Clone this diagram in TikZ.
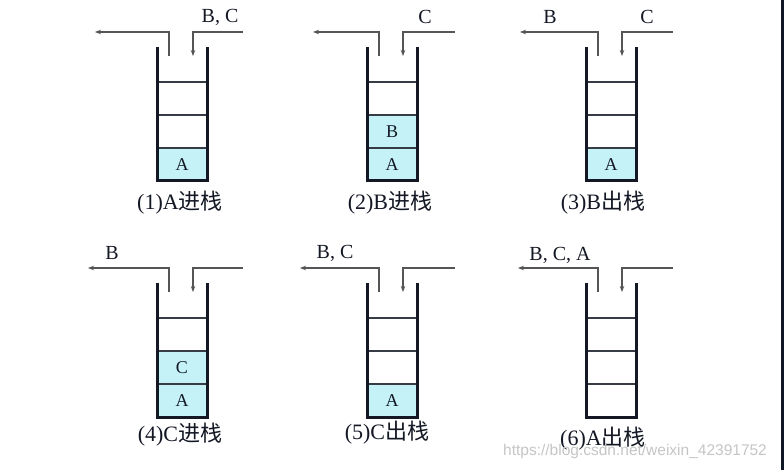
\documentclass[tikz,border=0pt]{standalone}
\usepackage{fontspec}
\setmainfont{Liberation Serif}
\newfontfamily\cjk{Noto Sans CJK SC}
\newfontfamily\wmfont{Liberation Sans}
\usetikzlibrary{arrows.meta}
\definecolor{cellfill}{RGB}{196,242,246}
\definecolor{ink}{RGB}{20,24,36}
\definecolor{arrowgray}{RGB}{85,85,85}
\definecolor{darkstrip}{RGB}{15,22,38}
\tikzset{
 wall/.style={line width=3pt, draw=ink, line join=miter},
 divider/.style={line width=1.5pt, draw=ink!85},
 flow/.style={line width=1.3pt, draw=arrowgray},
 flowtip/.style={flow, -{Stealth[length=6pt,width=4.5pt]}},
 lbl/.style={font=\fontsize{20}{20}\selectfont, text=ink, inner sep=0},
 cellt/.style={font=\fontsize{18}{18}\selectfont, text=ink, inner sep=0},
 captxt/.style={font=\fontsize{22}{22}\selectfont, text=ink, inner sep=0},
 wm/.style={font=\wmfont\fontsize{15.5}{15.5}\selectfont, text=gray!45, inner sep=0},
}
\newcommand\stk[5]{% name, xL, y0, outleft x, inright x
 \coordinate (#1-tl) at (#2,#3+15);
 \coordinate (#1-tr) at (#2+50,#3+15);
 \coordinate (#1-bl) at (#2,#3+149);
 \coordinate (#1-br) at (#2+50,#3+149);
 \coordinate (#1-o1) at (#2+12,#3+24);
 \coordinate (#1-o2) at (#2+12,#3);
 \coordinate (#1-o3) at (#4,#3);
 \coordinate (#1-i1) at (#5,#3);
 \coordinate (#1-i2) at (#2+36,#3);
 \coordinate (#1-i3) at (#2+36,#3+24);
 \foreach \k in {1,2,3}{\draw[divider] (#2,#3+149-33*\k) -- (#2+50,#3+149-33*\k);}
 \draw[wall] (#1-tl) -- (#1-bl) -- (#1-br) -- (#1-tr);
 \draw[flowtip] (#1-o1) -- (#1-o2) -- (#1-o3);
 \draw[flowtip] (#1-i1) -- (#1-i2) -- (#1-i3);
}
\newcommand\cellbox[5]{% name, xL, y0, k, letter
 \fill[cellfill] (#2,#3+149-33*#4+33) rectangle (#2+50,#3+149-33*#4);
 \node[cellt] (#1) at (#2+25,#3+149-33*#4+16.5) {#5};
}
\begin{document}
\begin{tikzpicture}[x=1pt,y=-1pt]
\useasboundingbox (0,0) rectangle (784,470);
\fill[white] (0,0) rectangle (784,470);
\fill[darkstrip] (781,0) rectangle (784,470);
% stack 1
\cellbox{s1a}{157}{32}{1}{A}
\stk{s1}{157}{32}{95}{243}
\node[lbl] (l1) at (220,17) {B, C};
\node[captxt] (c1) at (180,203) {(1)A{\cjk 进栈}};
% stack 2
\cellbox{s2a}{367}{32}{1}{A}
\cellbox{s2b}{367}{32}{2}{B}
\stk{s2}{367}{32}{313}{455}
\node[lbl] (l2) at (425,17) {C};
\node[captxt] (c2) at (390,203) {(2)B{\cjk 进栈}};
% stack 3
\cellbox{s3a}{586}{32}{1}{A}
\stk{s3}{586}{32}{520}{673}
\node[lbl] (l3a) at (550,17) {B};
\node[lbl] (l3b) at (647,17) {C};
\node[captxt] (c3) at (603,203) {(3)B{\cjk 出栈}};
% stack 4
\cellbox{s4a}{157}{268}{1}{A}
\cellbox{s4c}{157}{268}{2}{C}
\stk{s4}{157}{268}{88}{243}
\node[lbl] (l4) at (112,253) {B};
\node[captxt] (c4) at (180,435) {(4)C{\cjk 进栈}};
% stack 5
\cellbox{s5a}{367}{268}{1}{A}
\stk{s5}{367}{268}{300}{455}
\node[lbl] (l5) at (335,253) {B, C};
\node[captxt] (c5) at (387,433) {(5)C{\cjk 出栈}};
% stack 6
\stk{s6}{586}{268}{518}{673}
\node[lbl] (l6) at (560,255) {B, C, A};
\node[captxt] (c6) at (603,439) {(6)A{\cjk 出栈}};
% watermark
\node[wm, anchor=west] (wmk) at (503,451) {https://blog.csdn.net/weixin\_42391752};
\end{tikzpicture}
\end{document}
